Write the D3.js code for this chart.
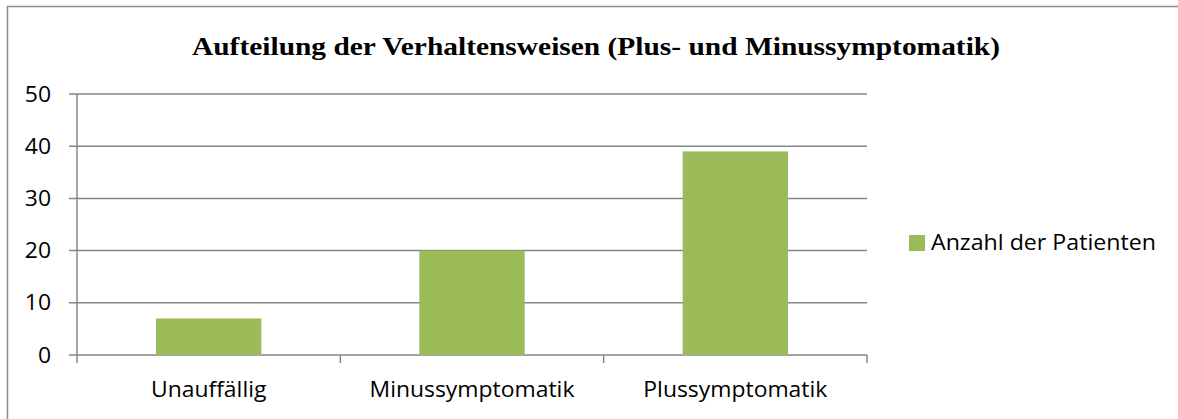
<!DOCTYPE html>
<html>
<head>
<meta charset="utf-8">
<script src="https://cdn.jsdelivr.net/npm/d3@7"></script>
<style>
  body { margin: 0; background: #fff; }
  svg text { font-family: "Open Sans", "Noto Sans", sans-serif; fill: #000; }
</style>
</head>
<body>
<svg id="chart" width="1178" height="419"></svg>
<script>
const categories = ["Unauffällig", "Minussymptomatik", "Plussymptomatik"];
const patients = [7, 20, 39];
const yTicks = [0, 10, 20, 30, 40, 50];
const seriesName = "Anzahl der Patienten";
const title = "Aufteilung der Verhaltensweisen (Plus- und Minussymptomatik)";

const svg = d3.select("#chart");
const margin = { top: 94, left: 77, right: 311, bottom: 64 };
const width = 1178 - margin.left - margin.right;
const height = 419 - margin.top - margin.bottom;

// the source picture is a bit wider than tall, so text gets stretched sideways
function stretch(sel, factor) {
  sel.each(function () {
    let len = this.getComputedTextLength();
    d3.select(this).attr("textLength", len * factor).attr("lengthAdjust", "spacingAndGlyphs");
  });
}

// outer chart border (only left/top visible in the crop)
svg.append("rect")
  .attr("x", 7.5).attr("y", 6.5)
  .attr("width", 1300).attr("height", 500)
  .attr("fill", "none").attr("stroke", "#8c8c8c").attr("stroke-width", 1.5);

const titleText = svg.append("text")
  .attr("x", 192).attr("y", 55)
  .style("font-family", "'Liberation Serif', 'Times New Roman', serif")
  .style("font-weight", "bold")
  .style("font-size", "25px")
  .text(title);
stretch(titleText, 808 / titleText.node().getComputedTextLength());

const g = svg.append("g").attr("transform", `translate(${margin.left},${margin.top})`);

const x = d3.scaleBand().domain(categories).range([0, width]).paddingInner(0.6).paddingOuter(0.3);
const xb = d3.scaleBand().domain(categories).range([0, width]);
const y = d3.scaleLinear().domain([0, 50]).range([height, 0]);

// gridlines
g.selectAll(".grid")
  .data(yTicks)
  .enter().append("line")
  .attr("class", "grid")
  .attr("x1", -8).attr("x2", width)
  .attr("y1", d => y(d)).attr("y2", d => y(d))
  .attr("stroke", "#868686").attr("stroke-width", 1.5);

g.selectAll(".bar")
  .data(patients)
  .enter().append("rect")
  .attr("class", "bar")
  .attr("x", (d, i) => x(categories[i]))
  .attr("width", x.bandwidth())
  .attr("y", d => y(d))
  .attr("height", d => height - y(d))
  .attr("fill", "#9bbb59");

// y axis line
g.append("line")
  .attr("x1", 0).attr("x2", 0).attr("y1", 0).attr("y2", height + 8)
  .attr("stroke", "#868686").attr("stroke-width", 1.5);

// category ticks
g.selectAll(".ctick")
  .data(categories.slice(1).map(c => xb(c)).concat([width]))
  .enter().append("line")
  .attr("x1", d => d).attr("x2", d => d)
  .attr("y1", height).attr("y2", height + 8)
  .attr("stroke", "#868686").attr("stroke-width", 1.5);

const xlabs = g.selectAll(".xlab")
  .data(categories)
  .enter().append("text")
  .attr("x", d => xb(d) + xb.bandwidth() / 2)
  .attr("y", height + 42)
  .attr("text-anchor", "middle")
  .style("font-size", "21px")
  .text(d => d);
const sx = 184 / xlabs.nodes()[2].getComputedTextLength();
stretch(xlabs, sx);

const ylabs = g.selectAll(".ylab")
  .data(yTicks)
  .enter().append("text")
  .attr("x", -26).attr("y", d => y(d))
  .attr("dy", "0.36em")
  .attr("text-anchor", "end")
  .style("font-size", "21px")
  .text(d => d);
stretch(ylabs, sx);

// legend
const lg = svg.append("g").attr("transform", "translate(909,235)");
lg.append("rect").attr("width", 16).attr("height", 16).attr("fill", "#9bbb59");
const lt = lg.append("text").attr("x", 22).attr("y", 15).style("font-size", "21px").text(seriesName);
stretch(lt, 225 / lt.node().getComputedTextLength());
</script>
</body>
</html>
